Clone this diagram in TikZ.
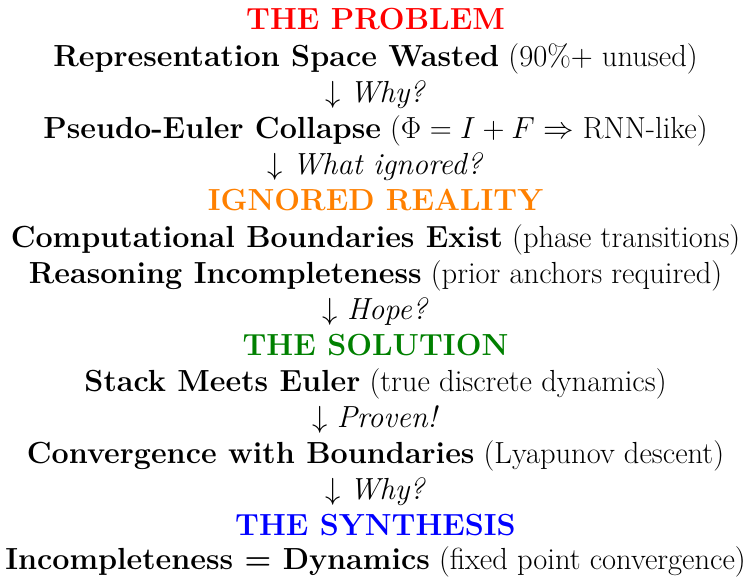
\RequirePackage{fix-cm}
\documentclass[tikz,border=0pt]{standalone}
\usepackage{amsmath}
\definecolor{probred}{RGB}{255,0,0}
\definecolor{ignorange}{RGB}{255,128,0}
\definecolor{solgreen}{RGB}{0,128,0}
\definecolor{synblue}{RGB}{0,0,255}
\begin{document}
\begin{tikzpicture}[x=1pt,y=1pt,
  line/.style={anchor=base,inner sep=0pt,font=\fontsize{30.5}{36}\selectfont},
  head/.style={line,font=\fontsize{30.5}{36}\selectfont\bfseries}]
\useasboundingbox (0,0) rectangle (751,-577);
\node[head,text=probred] (h1) at (375.5,-30) {THE PROBLEM};
\node[line] (l1) at (375.5,-67) {\textbf{Representation Space Wasted} (90\%+ unused)};
\node[line] (a1) at (375.5,-103) {$\downarrow$ \textit{Why?}};
\node[line] (l2) at (375.5,-139) {\textbf{Pseudo-Euler Collapse} ($\Phi = I + F \Rightarrow$ RNN-like)};
\node[line] (a2) at (375.5,-175) {$\downarrow$ \textit{What ignored?}};
\node[head,text=ignorange] (h2) at (375.5,-211) {IGNORED REALITY};
\node[line] (l3) at (375.5,-247) {\textbf{Computational Boundaries Exist} (phase transitions)};
\node[line] (l4) at (375.5,-283) {\textbf{Reasoning Incompleteness} (prior anchors required)};
\node[line] (a3) at (375.5,-319) {$\downarrow$ \textit{Hope?}};
\node[head,text=solgreen] (h3) at (375.5,-355) {THE SOLUTION};
\node[line] (l5) at (375.5,-391) {\textbf{Stack Meets Euler} (true discrete dynamics)};
\node[line] (a4) at (375.5,-427) {$\downarrow$ \textit{Proven!}};
\node[line] (l6) at (375.5,-463) {\textbf{Convergence with Boundaries} (Lyapunov descent)};
\node[line] (a5) at (375.5,-499) {$\downarrow$ \textit{Why?}};
\node[head,text=synblue] (h4) at (375.5,-535) {THE SYNTHESIS};
\node[line] (l7) at (375.5,-569) {\textbf{Incompleteness = Dynamics} (fixed point convergence)};
\end{tikzpicture}
\end{document}
